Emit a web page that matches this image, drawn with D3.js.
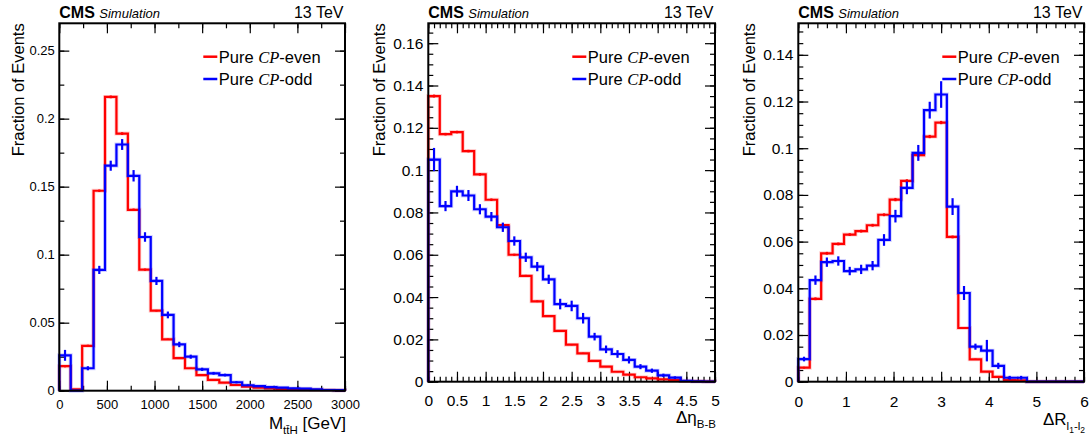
<!DOCTYPE html>
<html>
<head>
<meta charset="utf-8">
<script src="https://cdn.jsdelivr.net/npm/d3@7"></script>
<style>
    body { margin: 0; background: #fff; }
    svg text { font-family: "Liberation Sans", Arial, Helvetica, sans-serif; fill: #000; }
</style>
</head>
<body>
<div id="chart"></div>
<script>
// ---- M(ttH) panel: 25 bins of 120 GeV
const mtthBinWidth = 120;
const mtthEven = [0.018, 0.001, 0.033, 0.147, 0.216, 0.189, 0.133, 0.089, 0.0588, 0.0378, 0.024, 0.0165, 0.0115,
    0.0079, 0.0059, 0.0042, 0.003, 0.0022, 0.0017, 0.0012, 0.001, 0.0008, 0.0006, 0.0005, 0.0004];
const mtthOdd = [0.026, 0, 0.0165, 0.0888, 0.1654, 0.181, 0.158, 0.113, 0.0807, 0.0557, 0.034, 0.025, 0.0157,
    0.0128, 0.0115, 0.0062, 0.004, 0.0034, 0.0027, 0.0022, 0.0017, 0.0015, 0.001, 0.0005, 0.0004];
const mtthEvenErr = [0.0008, 0.0002, 0.0008, 0.0009, 0.001, 0.001, 0.0009, 0.0008, 0.0006, 0.0005, 0.0004, 0.0004, 0.0003,
    0.0003, 0.0003, 0.0002, 0.0002, 0.0002, 0.0001, 0.0001, 0.0001, 0.0001, 0.0001, 0.0001, 0.0001];
const mtthOddErr = [0.004, 0, 0.0015, 0.003, 0.0037, 0.004, 0.0042, 0.0035, 0.003, 0.0025, 0.002, 0.0015, 0.0012,
    0.001, 0.001, 0.0008, 0.0006, 0.0005, 0.0005, 0.0004, 0.0004, 0.0003, 0.0003, 0.0002, 0.0002];
const mtthXTicks = [0, 500, 1000, 1500, 2000, 2500, 3000];
const mtthYTicks = [0, 0.05, 0.1, 0.15, 0.2, 0.25];

// ---- Delta eta(B-B) panel: 25 bins of 0.2
const detaBinWidth = 0.2;
const detaEven = [0.135, 0.117, 0.118, 0.109, 0.098, 0.086, 0.074, 0.060, 0.050, 0.038, 0.031, 0.024, 0.0175,
    0.0134, 0.0098, 0.0071, 0.0047, 0.0033, 0.0021, 0.0016, 0.0011, 0.0008, 0.0003, 0.0002, 0.0001];
const detaOdd = [0.105, 0.083, 0.090, 0.088, 0.0815, 0.078, 0.073, 0.0665, 0.0588, 0.0544, 0.0484, 0.0367, 0.0358,
    0.030, 0.0213, 0.0153, 0.0131, 0.0103, 0.0071, 0.0052, 0.003, 0.0019, 0.0004, 0.0002, 0.0001];
const detaEvenErr = [0.0007, 0.0006, 0.0006, 0.0006, 0.0006, 0.0006, 0.0005, 0.0005, 0.0005, 0.0004, 0.0004, 0.0004, 0.0003,
    0.0003, 0.0003, 0.0002, 0.0002, 0.0002, 0.0001, 0.0001, 0.0001, 0.0001, 0.0001, 0.0001, 0.0001];
const detaOddErr = [0.0055, 0.0024, 0.0026, 0.0026, 0.0024, 0.0022, 0.0022, 0.0022, 0.0022, 0.0022, 0.0022, 0.0025, 0.0025,
    0.0025, 0.0018, 0.0018, 0.0018, 0.0017, 0.0012, 0.001, 0.0008, 0.0006, 0.0003, 0.0002, 0.0001];
const detaXTicks = [0, 0.5, 1, 1.5, 2, 2.5, 3, 3.5, 4, 4.5, 5];
const detaYTicks = [0, 0.02, 0.04, 0.06, 0.08, 0.1, 0.12, 0.14, 0.16];

// ---- Delta R(l1-l2) panel: 25 bins of 0.24
const drBinWidth = 0.24;
const drEven = [0.006, 0.0355, 0.055, 0.059, 0.063, 0.0645, 0.067, 0.0715, 0.078, 0.086, 0.097, 0.105, 0.111,
    0.062, 0.023, 0.0096, 0.0043, 0.0021, 0.0007, 0.0006, 0, 0, 0, 0, 0];
const drOdd = [0.0097, 0.0435, 0.0512, 0.0517, 0.0474, 0.0481, 0.0497, 0.0607, 0.0709, 0.083, 0.098, 0.1163, 0.123,
    0.075, 0.038, 0.015, 0.0133, 0.0068, 0.0017, 0.0017, 0, 0, 0, 0, 0];
const drEvenErr = [0.0004, 0.0006, 0.0006, 0.0006, 0.0006, 0.0006, 0.0006, 0.0006, 0.0007, 0.0007, 0.0007, 0.0007, 0.0007,
    0.0006, 0.0004, 0.0003, 0.0002, 0.0002, 0.0001, 0.0001, 0, 0, 0, 0, 0];
const drOddErr = [0.001, 0.002, 0.002, 0.002, 0.0018, 0.002, 0.002, 0.0025, 0.0027, 0.0027, 0.0034, 0.0036, 0.0057,
    0.0036, 0.003, 0.0013, 0.0046, 0.0013, 0.0008, 0.0008, 0, 0, 0, 0, 0];
const drXTicks = [0, 1, 2, 3, 4, 5, 6];
const drYTicks = [0, 0.02, 0.04, 0.06, 0.08, 0.1, 0.12, 0.14];

const seriesNames = ['CP-even', 'CP-odd'];
const seriesColors = ['#ff0000', '#0000ff'];

const svg = d3.select('#chart').append('svg')
    .attr('width', 1092)
    .attr('height', 437);

const fmt = d3.format('~g');

function drawPanel(p) {
    const x = d3.scaleLinear().domain(p.xDomain).range([p.left, p.right]);
    const y = d3.scaleLinear().domain([0, p.yMax]).range([p.bottom, p.top]);
    const g = svg.append('g');

    // axes: major + minor ticks on all four sides, pointing inward
    const addAxis = (axis, transform) => {
        const a = g.append('g')
            .attr('transform', transform)
            .attr('font-family', null)
            .attr('font-size', null)
            .call(axis);
        a.select('.domain').remove();
        a.selectAll('.tick line').attr('stroke', '#000').attr('stroke-width', 1.2);
        return a;
    };

    addAxis(d3.axisBottom(x).tickValues(p.xTicks).tickSize(-10).tickPadding(p.xPad).tickFormat(fmt),
        `translate(0,${p.bottom})`)
        .selectAll('text').style('font-size', p.tickFont + 'px');
    addAxis(d3.axisBottom(x).tickValues(p.xMinor).tickSize(-5).tickFormat(''), `translate(0,${p.bottom})`);
    addAxis(d3.axisTop(x).tickValues(p.xTicks).tickSize(-10).tickFormat(''), `translate(0,${p.top})`);
    addAxis(d3.axisTop(x).tickValues(p.xMinor).tickSize(-5).tickFormat(''), `translate(0,${p.top})`);

    addAxis(d3.axisLeft(y).tickValues(p.yTicks).tickSize(-10).tickPadding(p.yPad).tickFormat(fmt),
        `translate(${p.left},0)`)
        .selectAll('text').style('font-size', p.tickFont + 'px');
    addAxis(d3.axisLeft(y).tickValues(p.yMinor).tickSize(-5).tickFormat(''), `translate(${p.left},0)`);
    addAxis(d3.axisRight(y).tickValues(p.yTicks).tickSize(-10).tickFormat(''), `translate(${p.right},0)`);
    addAxis(d3.axisRight(y).tickValues(p.yMinor).tickSize(-5).tickFormat(''), `translate(${p.right},0)`);

    // histograms (red first, blue drawn on top)
    const n = p.series[0].values.length;
    const edges = d3.range(n + 1).map(i => p.xDomain[0] + i * p.binWidth);
    const line = d3.line().x(d => x(d[0])).y(d => y(d[1]));

    p.series.forEach((s, k) => {
        const pts = [[edges[0], 0]];
        s.values.forEach((v, i) => pts.push([edges[i], v], [edges[i + 1], v]));
        pts.push([edges[n], 0]);

        // soft halo like the anti-aliased original
        g.append('path')
            .attr('d', line(pts))
            .attr('fill', 'none')
            .attr('stroke', seriesColors[k])
            .attr('stroke-opacity', 0.18)
            .attr('stroke-width', 4);
        g.append('path')
            .attr('d', line(pts))
            .attr('fill', 'none')
            .attr('stroke', seriesColors[k])
            .attr('stroke-width', 2.2);

        g.append('g')
            .selectAll('line')
            .data(s.values.map((v, i) => ({ v, e: s.errors[i], c: (edges[i] + edges[i + 1]) / 2 })).filter(d => d.e > 0))
            .join('line')
            .attr('x1', d => x(d.c))
            .attr('x2', d => x(d.c))
            .attr('y1', d => y(d.v - d.e))
            .attr('y2', d => y(d.v + d.e))
            .attr('stroke', seriesColors[k])
            .attr('stroke-width', 2.2);
    });

    // frame
    g.append('rect')
        .attr('x', p.left)
        .attr('y', p.top)
        .attr('width', p.right - p.left)
        .attr('height', p.bottom - p.top)
        .attr('fill', 'none')
        .attr('stroke', '#000')
        .attr('stroke-width', 2);

    // header
    g.append('text')
        .attr('x', p.left)
        .attr('y', 18.3)
        .attr('font-weight', 'bold')
        .attr('font-size', 16)
        .text('CMS');
    g.append('text')
        .attr('x', p.left + 40)
        .attr('y', 18.3)
        .attr('font-style', 'italic')
        .attr('font-size', 13)
        .text('Simulation');
    g.append('text')
        .attr('x', p.right - 1.5)
        .attr('y', 18.3)
        .attr('text-anchor', 'end')
        .attr('font-size', 16)
        .text('13 TeV');

    // y-axis title
    g.append('text')
        .attr('transform', `translate(${p.yTitleX},${p.top}) rotate(-90)`)
        .attr('text-anchor', 'end')
        .attr('font-size', 16.5)
        .text('Fraction of Events');

    // x-axis title with sub-/sub-subscripts
    const sizes = [17, 11.5, 8.5];
    const shifts = [0, 5, 2.5];
    const xt = g.append('text')
        .attr('x', p.right + 1)
        .attr('y', p.xTitleY)
        .attr('text-anchor', 'end');
    let level = 0;
    p.xTitle.forEach(([t, lv]) => {
        let dy = 0;
        if (lv > level) for (let l = level + 1; l <= lv; l++) dy += shifts[l];
        else for (let l = level; l > lv; l--) dy -= shifts[l];
        xt.append('tspan')
            .attr('dy', dy)
            .attr('font-size', sizes[lv])
            .text(t);
        level = lv;
    });

    // legend
    p.series.forEach((s, k) => {
        const ly = 56.7 + k * 22.3;
        g.append('line')
            .attr('x1', p.left + 144)
            .attr('x2', p.left + 158)
            .attr('y1', ly)
            .attr('y2', ly)
            .attr('stroke', seriesColors[k])
            .attr('stroke-width', 2.5);
        const t = g.append('text')
            .attr('x', p.left + 159.5)
            .attr('y', ly + 6)
            .attr('font-size', 16.5);
        t.append('tspan').text('Pure ');
        t.append('tspan')
            .style('font-family', '"Liberation Serif", "Times New Roman", serif')
            .attr('font-style', 'italic')
            .text('CP');
        t.append('tspan').text(seriesNames[k].slice(2));
    });
}

drawPanel({
    left: 59.3, right: 345, top: 23.3, bottom: 390.7,
    xDomain: [0, 3000], yMax: 0.2701, binWidth: mtthBinWidth,
    xTicks: mtthXTicks, xMinor: d3.range(0, 3001, 250),
    yTicks: mtthYTicks, yMinor: d3.range(0, 0.27, 0.025),
    tickFont: 13, xPad: 9, yPad: 4.5,
    yTitleX: 24, xTitleY: 429,
    xTitle: [['M', 0], ['tt\u0304H', 1], [' [GeV]', 0]],
    series: [
        { values: mtthEven, errors: mtthEvenErr },
        { values: mtthOdd, errors: mtthOddErr }
    ]
});

drawPanel({
    left: 428.3, right: 715, top: 23.3, bottom: 381.7,
    xDomain: [0, 5], yMax: 0.1694, binWidth: detaBinWidth,
    xTicks: detaXTicks, xMinor: d3.range(0, 5.01, 0.1),
    yTicks: detaYTicks, yMinor: d3.range(0, 0.169, 0.005),
    tickFont: 15.5, xPad: 13.5, yPad: 5,
    yTitleX: 385, xTitleY: 423,
    xTitle: [['\u0394\u03b7', 0], ['B-B', 1]],
    series: [
        { values: detaEven, errors: detaEvenErr },
        { values: detaOdd, errors: detaOddErr }
    ]
});

drawPanel({
    left: 798.3, right: 1084, top: 23.3, bottom: 381.7,
    xDomain: [0, 6], yMax: 0.1535, binWidth: drBinWidth,
    xTicks: drXTicks, xMinor: d3.range(0, 6.01, 0.2),
    yTicks: drYTicks, yMinor: d3.range(0, 0.153, 0.005),
    tickFont: 15.5, xPad: 14, yPad: 5,
    yTitleX: 755, xTitleY: 425,
    xTitle: [['\u0394R', 0], ['l', 1], ['1', 2], ['-l', 1], ['2', 2]],
    series: [
        { values: drEven, errors: drEvenErr },
        { values: drOdd, errors: drOddErr }
    ]
});
</script>
</body>
</html>
